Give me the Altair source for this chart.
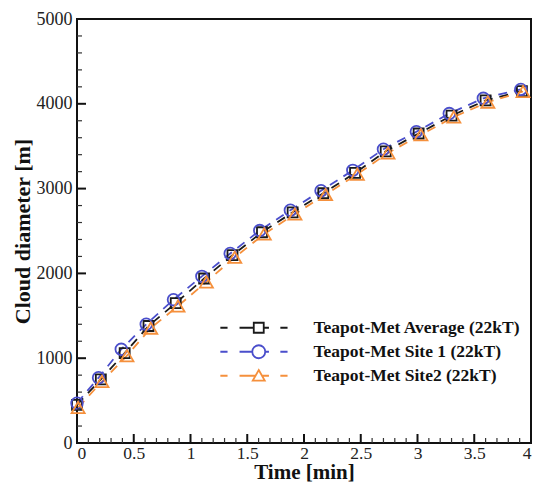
import altair as alt
import pandas as pd

# ---- data ----
series = ["Teapot-Met Average (22kT)", "Teapot-Met Site 1 (22kT)", "Teapot-Met Site2 (22kT)"]
colors = ["#1a1a1a", "#4a4ecb", "#f5903c"]

x_avg = [0, 0.21, 0.42, 0.63, 0.87, 1.12, 1.37, 1.63, 1.90, 2.17, 2.45, 2.72, 3.01, 3.30, 3.60, 3.92]
y_avg = [450, 750, 1060, 1380, 1650, 1940, 2215, 2485, 2720, 2945, 3185, 3440, 3650, 3860, 4040, 4150]

x_site1 = [0, 0.19, 0.39, 0.61, 0.85, 1.10, 1.35, 1.61, 1.88, 2.15, 2.43, 2.70, 2.99, 3.28, 3.58, 3.91]
y_site1 = [470, 770, 1105, 1400, 1690, 1965, 2235, 2505, 2745, 2975, 3215, 3465, 3670, 3885, 4065, 4170]

x_site2 = [0.01, 0.22, 0.44, 0.65, 0.89, 1.14, 1.39, 1.65, 1.92, 2.19, 2.47, 2.74, 3.03, 3.32, 3.62, 3.93]
y_site2 = [420, 725, 1030, 1355, 1615, 1900, 2190, 2465, 2700, 2930, 3170, 3420, 3635, 3845, 4020, 4145]

x_major = [0, 0.5, 1, 1.5, 2, 2.5, 3, 3.5, 4]
x_minor = [0.1, 0.2, 0.3, 0.4, 0.6, 0.7, 0.8, 0.9, 1.1, 1.2, 1.3, 1.4, 1.6, 1.7, 1.8, 1.9,
           2.1, 2.2, 2.3, 2.4, 2.6, 2.7, 2.8, 2.9, 3.1, 3.2, 3.3, 3.4, 3.6, 3.7, 3.8, 3.9]
y_major = [0, 1000, 2000, 3000, 4000, 5000]
y_minor = [200, 400, 600, 800, 1200, 1400, 1600, 1800, 2200, 2400, 2600, 2800,
           3200, 3400, 3600, 3800, 4200, 4400, 4600, 4800]

W, H = 454, 424

rows = []
for name, xs, ys in [(series[0], x_avg, y_avg), (series[1], x_site1, y_site1), (series[2], x_site2, y_site2)]:
    for xv, yv in zip(xs, ys):
        rows.append({"series": name, "x": xv, "y": yv})
df = pd.DataFrame(rows)

# legend symbols: dashed line with the marker in the middle (unit = 6 px at size 144)
legend_paths = [
    "M-6.4,0H-5.2M-3.2,0H-0.85M0.85,0H1.7M3.6,0H4.8M-0.83,-0.83H0.83V0.83H-0.83Z",
    "M-6.4,0H-5.2M-3.2,0H-1.08M1.08,0H1.7M3.6,0H4.8M1.08,0A1.08,1.08 0 1,1 -1.08,0A1.08,1.08 0 1,1 1.08,0Z",
    "M-6.4,0H-5.2M-3.2,0H-0.55M0.55,0H1.7M3.6,0H4.8M0,-0.95L1,0.8H-1Z",
]

xenc = alt.X("x:Q", scale=alt.Scale(domain=[0, 4], nice=False, zero=False),
             axis=alt.Axis(values=x_major, format="~g", title="Time [min]", labelFontSize=17.5,
                           titleFontSize=21, labelPadding=1, titleY=35, titleBaseline="alphabetic"))
yenc = alt.Y("y:Q", scale=alt.Scale(domain=[0, 5000], nice=False),
             axis=alt.Axis(values=y_major, format="d", title="Cloud diameter [m]",
                           labelPadding=5, titleX=-48, titleBaseline="alphabetic"))

color_nolegend = alt.Color("series:N", scale=alt.Scale(domain=series, range=colors), legend=None)

lines = alt.Chart(df).mark_line(strokeDash=[9, 7], strokeWidth=1.8).encode(
    x=xenc, y=yenc, color=color_nolegend, order="x:Q"
)

points = alt.Chart(df).mark_point(filled=False, strokeWidth=1.8, opacity=1).encode(
    x=xenc, y=yenc, color=color_nolegend,
    shape=alt.Shape("series:N", scale=alt.Scale(domain=series, range=["square", "circle", "triangle-up"]), legend=None),
    size=alt.Size("series:N", scale=alt.Scale(domain=series, range=[100, 170, 130]), legend=None),
)

legend_layer = alt.Chart(df).transform_filter("datum.x < -1").mark_point(filled=False, strokeWidth=1.8, opacity=1).encode(
    x=xenc, y=yenc,
    color=alt.Color("series:N", scale=alt.Scale(domain=series, range=colors), legend=alt.Legend(title=None)),
    shape=alt.Shape("series:N", scale=alt.Scale(domain=series, range=legend_paths), legend=alt.Legend(title=None)),
)

ytick_major = alt.Chart(pd.DataFrame({"y": y_major})).mark_rule(color="#111", strokeWidth=2).encode(
    y=yenc, x=alt.value(0), x2=alt.value(9))
ytick_minor = alt.Chart(pd.DataFrame({"y": y_minor})).mark_rule(color="#333", strokeWidth=1.2).encode(
    y=yenc, x=alt.value(0), x2=alt.value(5))
xtick_major = alt.Chart(pd.DataFrame({"x": x_major})).mark_rule(color="#111", strokeWidth=2).encode(
    x=xenc, y=alt.value(H), y2=alt.value(H - 9))
xtick_minor = alt.Chart(pd.DataFrame({"x": x_minor})).mark_rule(color="#333", strokeWidth=1.2).encode(
    x=xenc, y=alt.value(H), y2=alt.value(H - 5))

chart = alt.layer(
    lines, points, legend_layer, ytick_major, ytick_minor, xtick_major, xtick_minor
).resolve_scale(
    color="independent", shape="independent", size="independent"
).properties(
    width=W, height=H,
    autosize=alt.AutoSizeParams(type="none"),
    padding={"left": 77, "top": 19, "right": 2, "bottom": 40},
    background="white",
).configure_view(
    stroke="#111", strokeWidth=2
).configure_axis(
    grid=False, ticks=False, tickSize=0, domain=False,
    labelFont="Liberation Serif", labelFontSize=18, labelColor="#222",
    titleFont="Liberation Serif", titleFontSize=22, titleFontWeight="bold", titleColor="#111",
).configure_legend(
    orient="none", legendX=173, legendY=300, padding=0,
    symbolSize=144, symbolStrokeWidth=1.8,
    labelFont="Liberation Serif", labelFontSize=17.5, labelFontWeight="bold", labelColor="#111",
    labelOffset=46, rowPadding=4, labelLimit=400,
)

chart.save("out.html", embed_options={"renderer": "svg", "actions": False})
